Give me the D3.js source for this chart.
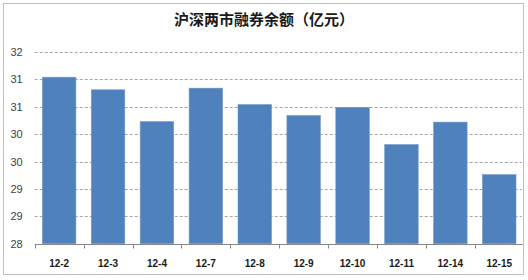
<!DOCTYPE html>
<html>
<head>
<meta charset="utf-8">
<script src="https://cdn.jsdelivr.net/npm/d3@7"></script>
<style>
  html, body { margin: 0; padding: 0; background: #fff; }
  svg { display: block; }
</style>
</head>
<body>
<svg id="chart" width="528" height="280"></svg>
<script>
const title = "沪深两市融券余额（亿元）";
const categories = ["12-2", "12-3", "12-4", "12-7", "12-8", "12-9", "12-10", "12-11", "12-14", "12-15"];
const values = [31.04, 30.81, 30.23, 30.84, 30.54, 30.34, 30.49, 29.81, 30.22, 29.26];
const yTickValues = [28, 28.5, 29, 29.5, 30, 30.5, 31, 31.5];
const yTickLabels = ["28", "29", "29", "30", "30", "31", "31", "32"];

const svg = d3.select("#chart");

// outer frame
svg.append("rect")
  .attr("x", 3.5).attr("y", 3.5)
  .attr("width", 520).attr("height", 271)
  .attr("fill", "#fff")
  .attr("stroke", "#bfbfbf")
  .attr("stroke-width", 1);

const plot = { left: 34.7, right: 523.7, top: 52, bottom: 243.7 };

const x = d3.scaleBand()
  .domain(categories)
  .range([plot.left, plot.right])
  .paddingInner(0.315)
  .paddingOuter(0.1575);

const y = d3.scaleLinear()
  .domain([28, 31.5])
  .range([plot.bottom, plot.top]);

// title
svg.append("text")
  .attr("x", 264).attr("y", 25)
  .attr("text-anchor", "middle")
  .attr("font-family", "'Noto Sans CJK SC', sans-serif")
  .attr("font-weight", "bold")
  .attr("font-size", 15)
  .attr("fill", "#1a1a1a")
  .text(title);

// gridlines
svg.append("g")
  .selectAll("line")
  .data(yTickValues.filter(v => v !== 28))
  .join("line")
  .attr("x1", plot.left).attr("x2", plot.right - 2)
  .attr("y1", d => Math.round(y(d)) + 0.5)
  .attr("y2", d => Math.round(y(d)) + 0.5)
  .attr("stroke", "#a6a6a6")
  .attr("stroke-width", 1)
  .attr("stroke-dasharray", "3,2");

// y axis labels
const yAxis = d3.axisLeft(y)
  .tickValues(yTickValues)
  .tickFormat((d, i) => yTickLabels[i])
  .tickSize(0)
  .tickPadding(12);
const yg = svg.append("g")
  .attr("transform", `translate(${plot.left},0)`)
  .call(yAxis);
yg.select(".domain").remove();
yg.selectAll("text")
  .attr("font-family", "'Liberation Sans', Arial, sans-serif")
  .attr("font-size", 11)
  .attr("fill", "#404040");

// bars
svg.append("g")
  .selectAll("rect")
  .data(values)
  .join("rect")
  .attr("x", (d, i) => x(categories[i]))
  .attr("width", x.bandwidth())
  .attr("y", d => y(d))
  .attr("height", d => y(28) - y(d))
  .attr("fill", "#4f81bd")
  .attr("stroke", "#6f97c8")
  .attr("stroke-width", 0.6);

// x axis
const xg = svg.append("g")
  .attr("transform", `translate(0,${Math.round(plot.bottom) + 0.5})`);
xg.append("line")
  .attr("x1", plot.left).attr("x2", plot.right - 1)
  .attr("stroke", "#868686");
const step = x.step();
xg.selectAll("line.tk")
  .data(d3.range(categories.length))
  .join("line")
  .attr("class", "tk")
  .attr("x1", i => Math.round(plot.left + i * step) + 0.5)
  .attr("x2", i => Math.round(plot.left + i * step) + 0.5)
  .attr("y1", 0).attr("y2", 4)
  .attr("stroke", "#868686");
xg.selectAll("text")
  .data(categories)
  .join("text")
  .attr("x", d => x(d) + x.bandwidth() / 2)
  .attr("y", 22)
  .attr("text-anchor", "middle")
  .attr("font-family", "'Liberation Sans', Arial, sans-serif")
  .attr("font-weight", "bold")
  .attr("font-size", 10)
  .attr("fill", "#1a1a1a")
  .text(d => d);
</script>
</body>
</html>
